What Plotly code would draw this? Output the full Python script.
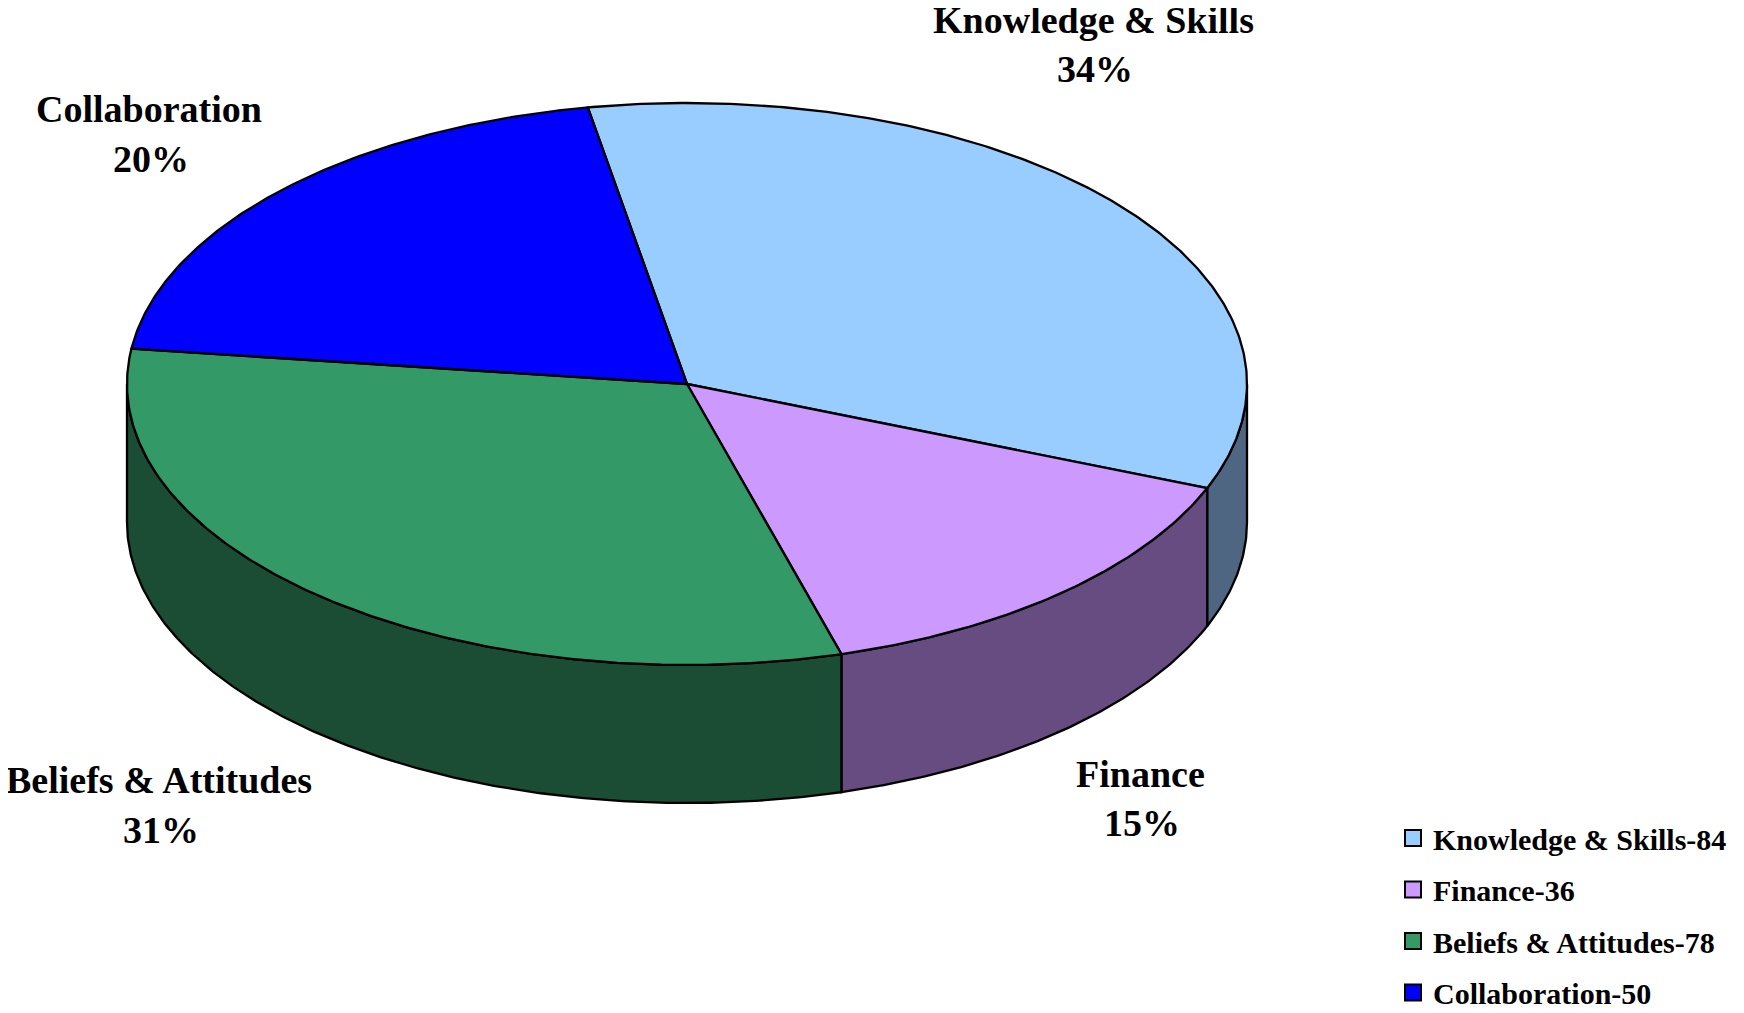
import numpy as np
import plotly.graph_objects as go

categories = ["Knowledge & Skills", "Finance", "Beliefs & Attitudes", "Collaboration"]
values = [84, 36, 78, 50]
top_colors = ["#99CCFF", "#CC99FF", "#339966", "#0000FF"]
side_colors = ["#4F6682", "#664C80", "#1A4D33", "#00007F"]

W, H = 1744, 1013
CX, CY, RX, RY, DEPTH = 679, 376, 560, 281, 138
START = -10.2
FONT = "Liberation Serif"
LABEL_POS = {
    "Knowledge & Skills": (1085, 12, 61),
    "Finance": (1132, 766, 815),
    "Beliefs & Attitudes": (151, 772, 822),
    "Collaboration": (141, 101, 151),
}
PCT_DX = 2

total = sum(values)
edges = START + np.concatenate([[0], np.cumsum(values)]) / total * 360.0


def rim(a0, a1, dy=0.0):
    t = np.radians(np.linspace(a0, a1, max(int(abs(a1 - a0) * 2), 2)))
    return CX + RX * np.sin(t), CY - RY * np.cos(t) + dy


fig = go.Figure()
line = dict(color="black", width=2.3)

# visible side walls: the front half of the rim, 90 to 270 degrees clockwise from top
for i in range(len(values)):
    a0, a1 = max(edges[i], 90), min(edges[i + 1], 270)
    if a1 <= a0:
        continue
    x0, y0 = rim(a0, a1)
    x1, y1 = rim(a1, a0, DEPTH)
    fig.add_trace(go.Scatter(
        x=np.r_[x0, x1, x0[0]], y=np.r_[y0, y1, y0[0]], mode="lines", fill="toself",
        fillcolor=side_colors[i], line=line, showlegend=False, hoverinfo="skip"))

# top faces
for i in range(len(values)):
    x, y = rim(edges[i], edges[i + 1])
    fig.add_trace(go.Scatter(
        x=np.r_[CX, x, CX], y=np.r_[CY, y, CY], mode="lines", fill="toself",
        fillcolor=top_colors[i], line=line, showlegend=False, hoverinfo="skip"))

# legend entries
for i, c in enumerate(categories):
    fig.add_trace(go.Scatter(
        x=[None], y=[None], mode="markers", name=f"{c}-{values[i]}", legendgroup=c,
        marker=dict(symbol="square", size=16, color=top_colors[i], line=dict(color="black", width=2))))

# slice labels
annotations = []
for c, v in zip(categories, values):
    lx, y1, y2 = LABEL_POS[c]
    for txt, xx, yy in ((c, lx, y1), (f"{round(v / total * 100)}%", lx + PCT_DX, y2)):
        annotations.append(dict(x=xx, y=yy, xref="x", yref="y", text=f"<b>{txt}</b>", showarrow=False,
                                xanchor="center", yanchor="middle",
                                font=dict(family=FONT, size=38, color="black")))

fig.update_layout(
    width=W, height=H, margin=dict(l=0, r=0, t=0, b=0, autoexpand=False),
    paper_bgcolor="white", plot_bgcolor="white",
    xaxis=dict(range=[0, W], visible=False, fixedrange=True),
    yaxis=dict(range=[H, 0], visible=False, fixedrange=True),
    annotations=annotations,
    legend=dict(x=1385 / W, y=(H - 804) / H, xanchor="left", yanchor="top",
                traceorder="grouped", tracegroupgap=9.5, itemwidth=30,
                bgcolor="rgba(0,0,0,0)", borderwidth=0,
                font=dict(family=FONT, size=30, color="black", weight="bold")),
)
fig.write_html("out.html", config={"displayModeBar": False})
